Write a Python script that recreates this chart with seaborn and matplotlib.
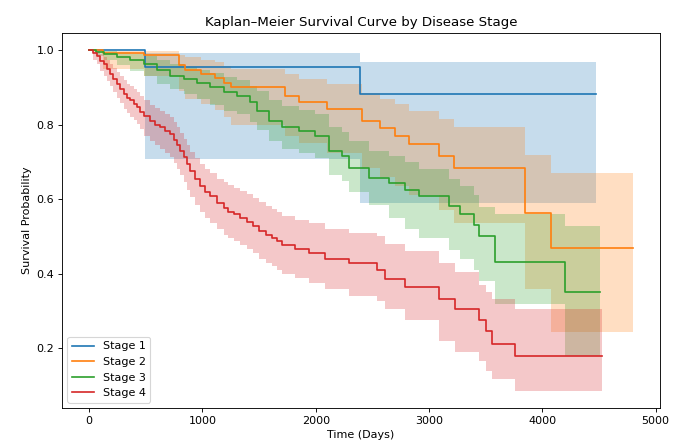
import matplotlib
matplotlib.use("Agg")
import matplotlib.pyplot as plt
import seaborn as sns
import pandas as pd

stages = ["Stage 1", "Stage 2", "Stage 3", "Stage 4"]

# Stage 1
t1 = [0, 490, 2390, 4470]
s1 = [1.0, 0.955, 0.883, 0.883]
lo1 = [1.0, 0.709, 0.589, 0.589]
hi1 = [1.0, 0.993, 0.967, 0.967]

# Stage 2
t2 = [0, 120, 480, 790, 850, 985, 1115, 1190, 1250, 1730, 1850, 2100, 2410, 2570, 2700, 2820, 3085, 3220, 3845, 4080, 4800]
s2 = [1.0, 0.993, 0.986, 0.96, 0.948, 0.937, 0.926, 0.912, 0.90, 0.878, 0.86, 0.842, 0.81, 0.79, 0.77, 0.748, 0.716, 0.683, 0.563, 0.47, 0.47]
hi2 = [1.0, 0.999, 0.997, 0.988, 0.982, 0.975, 0.967, 0.958, 0.95, 0.937, 0.924, 0.91, 0.885, 0.87, 0.855, 0.838, 0.816, 0.793, 0.72, 0.671, 0.671]
lo2 = [1.0, 0.95, 0.93, 0.89, 0.87, 0.855, 0.84, 0.82, 0.80, 0.77, 0.75, 0.725, 0.685, 0.66, 0.635, 0.61, 0.57, 0.535, 0.36, 0.243, 0.243]

# Stage 3
t3 = [0, 60, 128, 243, 363, 481, 596, 716, 834, 950, 1069, 1187, 1303, 1422, 1480, 1584, 1700, 1849, 1996, 2114, 2230, 2290, 2467, 2643, 2790, 2908, 3173, 3276, 3394, 3438, 3585, 4203, 4512]
s3 = [1.0, 0.995, 0.991, 0.982, 0.973, 0.962, 0.946, 0.932, 0.923, 0.912, 0.90, 0.887, 0.878, 0.86, 0.838, 0.81, 0.793, 0.784, 0.77, 0.73, 0.716, 0.685, 0.658, 0.644, 0.626, 0.608, 0.581, 0.559, 0.532, 0.5, 0.432, 0.351, 0.351]
hi3 = [1.0, 1.0, 0.999, 0.995, 0.991, 0.985, 0.974, 0.963, 0.956, 0.948, 0.938, 0.928, 0.92, 0.905, 0.89, 0.865, 0.85, 0.84, 0.83, 0.795, 0.78, 0.755, 0.73, 0.715, 0.70, 0.68, 0.655, 0.635, 0.61, 0.58, 0.56, 0.527, 0.527]
lo3 = [1.0, 0.985, 0.975, 0.96, 0.945, 0.93, 0.91, 0.895, 0.882, 0.868, 0.853, 0.838, 0.828, 0.808, 0.785, 0.755, 0.736, 0.725, 0.71, 0.665, 0.65, 0.62, 0.585, 0.55, 0.52, 0.495, 0.465, 0.44, 0.41, 0.38, 0.32, 0.18, 0.18]

# Stage 4
t4 = [0, 30, 66, 100, 128, 160, 187, 215, 245, 275, 305, 335, 363, 392, 422, 450, 481, 540, 585, 628,
      670, 716, 745, 775, 805, 835, 863, 893, 935, 981, 1025, 1069, 1130, 1187, 1230, 1275, 1330, 1393, 1450, 1496,
      1560, 1614, 1660, 1702, 1820, 1937, 2085, 2290, 2540, 2614, 2790, 3085, 3232, 3438, 3500, 3555, 3762, 4526]
s4 = [1.0, .993, .985, .972, .962, .95, .937, .923, .91, .897, .883, .873, .865, .856, .847, .835, .824, .81, .80, .793,
      .784, .775, .76, .745, .73, .712, .694, .675, .655, .635, .62, .608, .59, .576, .567, .559, .55, .54, .528, .515,
      .505, .497, .487, .477, .466, .455, .44, .428, .41, .387, .365, .333, .306, .275, .245, .212, .18, .18]
hi4 = [1.0, 1.0, .997, .99, .983, .974, .964, .953, .942, .931, .919, .91, .903, .895, .887, .876, .866, .853, .844, .838,
       .829, .821, .807, .793, .779, .762, .745, .727, .71, .695, .682, .67, .655, .645, .637, .63, .622, .615, .603, .592,
       .583, .575, .565, .555, .545, .535, .52, .509, .50, .48, .46, .428, .405, .37, .35, .333, .306, .306]
lo4 = [1.0, .975, .962, .945, .932, .918, .903, .888, .873, .858, .843, .832, .822, .812, .802, .789, .77, .755, .745, .735,
       .725, .712, .698, .682, .665, .645, .625, .605, .585, .565, .55, .537, .52, .505, .495, .487, .477, .467, .455, .44,
       .43, .42, .41, .40, .388, .376, .36, .34, .328, .305, .275, .22, .19, .165, .14, .117, .085, .085]

series = [(t1, s1, lo1, hi1), (t2, s2, lo2, hi2), (t3, s3, lo3, hi3), (t4, s4, lo4, hi4)]
colors = sns.color_palette("tab10")

DPI = 80
fig, ax = plt.subplots(figsize=(673 / DPI, 448 / DPI), dpi=DPI)
for name, (t, s, lo, hi), c in zip(stages, series, colors):
    df = pd.DataFrame({"Time": t, "Survival": s})
    sns.lineplot(data=df, x="Time", y="Survival", drawstyle="steps-post", color=c,
                 label=name, ax=ax, errorbar=None, linewidth=1.5)
    ax.fill_between(t, lo, hi, step="post", color=c, alpha=0.25, linewidth=0)

ax.set_title("Kaplan–Meier Survival Curve by Disease Stage")
ax.set_xlabel("Time (Days)")
ax.set_ylabel("Survival Probability")
ax.legend(loc="lower left")
fig.subplots_adjust(left=0.092, right=0.981, top=0.926, bottom=0.089)
fig.savefig("out.png", dpi=DPI)
